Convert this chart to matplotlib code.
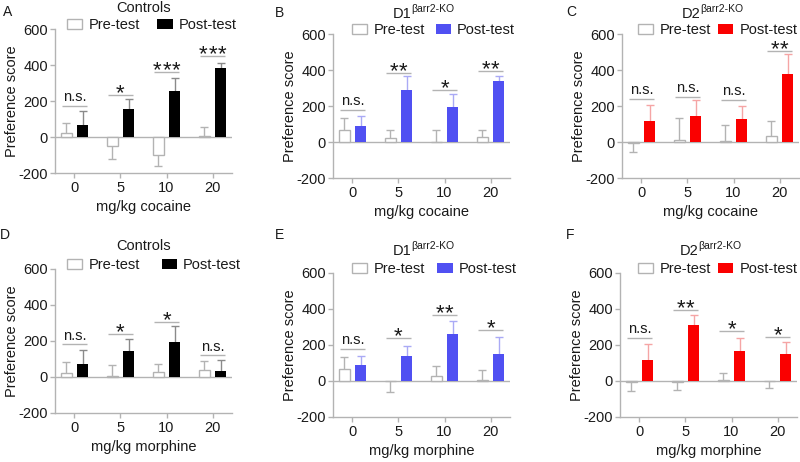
import numpy as np
import matplotlib.pyplot as plt
from matplotlib.patches import Patch

plt.rcParams['font.family'] = ['Liberation Sans', 'DejaVu Sans']
plt.rcParams['font.size'] = 10
plt.rcParams['axes.unicode_minus'] = False

W, H = 800, 462

doses = ['0', '5', '10', '20']

# A - controls, cocaine
a_pre = [22, -49, -101, 7]
a_pre_err = [60, 74, 58, 53]
a_post = [69, 157, 256, 385]
a_post_err = [79, 56, 75, 30]
a_sig = ['n.s.', '*', '***', '***']
a_sig_y = [175, 237, 363, 452]

# B - D1 bArr2-KO, cocaine
b_pre = [67, 24, 2, 30]
b_pre_err = [68, 43, 65, 37]
b_post = [89, 289, 198, 339]
b_post_err = [55, 78, 70, 28]
b_sig = ['n.s.', '**', '*', '**']
b_sig_y = [181, 385, 293, 398]

# C - D2 bArr2-KO, cocaine
c_pre = [-2, 15, 10, 37]
c_pre_err = [54, 120, 84, 80]
c_post = [117, 144, 131, 378]
c_post_err = [92, 93, 73, 113]
c_sig = ['n.s.', 'n.s.', 'n.s.', '**']
c_sig_y = [241, 250, 237, 506]

# D - controls, morphine
d_pre = [22, 7, 28, 39]
d_pre_err = [60, 62, 45, 51]
d_post = [71, 144, 194, 34]
d_post_err = [79, 65, 90, 59]
d_sig = ['n.s.', '*', '*', 'n.s.']
d_sig_y = [181, 241, 308, 120]

# E - D1 bArr2-KO, morphine
e_pre = [66, -2, 29, 5]
e_pre_err = [70, 60, 52, 57]
e_post = [88, 139, 261, 150]
e_post_err = [53, 55, 71, 92]
e_sig = ['n.s.', '*', '**', '*']
e_sig_y = [176, 237, 365, 283]

# F - D2 bArr2-KO, morphine
f_pre = [-3, -4, 7, -2]
f_pre_err = [52, 44, 37, 37]
f_post = [117, 310, 169, 149]
f_post_err = [90, 59, 68, 66]
f_sig = ['n.s.', '**', '*', '*']
f_sig_y = [237, 393, 279, 246]

GRAY = '#b3b3b3'
TXT = '#1a1a1a'
BLUE = '#5050f2'
RED = '#fa0000'


def px_rect(left, top, width, height):
    return [left / W, 1 - (top + height) / H, width / W, height / H]


def draw_errors(ax, xs, vals, errs, color):
    vals = np.array(vals, dtype=float)
    tips = vals + np.sign(vals) * np.array(errs)
    tips = np.where(vals == 0, vals + np.array(errs), tips)
    ax.vlines(xs, vals, tips, color=color, lw=1, zorder=2)
    ax.hlines(tips, xs - 0.085, xs + 0.085, color=color, lw=1, zorder=2)


def draw_panel(fig, rect, letter, letter_xy, title, sup, title_y,
               pre, pre_err, post, post_err, sig, sig_y,
               color, err_color, xlabel, leg_xy, colspace):
    ax = fig.add_axes(px_rect(*rect))
    x = np.arange(len(doses))
    off, bw = 0.18, 0.24

    ax.bar(x - off, pre, bw, facecolor='white', edgecolor=GRAY, lw=1, zorder=3)
    ax.bar(x + off, post, bw, color=color, lw=0, zorder=3)
    draw_errors(ax, x - off, pre, pre_err, GRAY)
    draw_errors(ax, x + off, post, post_err, err_color)
    ax.axhline(0, color=GRAY, lw=1, zorder=1)

    # significance brackets
    for xi, s, yv in zip(x, sig, sig_y):
        ax.hlines(yv, xi - 0.27, xi + 0.27, color=GRAY, lw=1)
        if s == 'n.s.':
            ax.annotate(s, (xi, yv), xytext=(0, 3.5), textcoords='offset points',
                        ha='center', va='baseline', fontsize=10.5, color=TXT)
        else:
            n = len(s)
            for k in range(n):
                ax.annotate('*', (xi + (k - (n - 1) / 2) * 0.21, yv), xytext=(0, -3),
                            textcoords='offset points', ha='center', va='baseline',
                            fontsize=16, color=TXT)

    ax.set_xlim(-0.42, 3.42)
    ax.set_ylim(-200, 600)
    ax.set_yticks([-200, 0, 200, 400, 600])
    ax.set_xticks(x)
    ax.set_xticklabels(doses)
    for sp in ['top', 'right']:
        ax.spines[sp].set_visible(False)
    for sp in ['left', 'bottom']:
        ax.spines[sp].set_color(GRAY)
        ax.spines[sp].set_linewidth(1)
    ax.tick_params(axis='both', colors=GRAY, labelcolor=TXT, length=3.5, width=1,
                   labelsize=10.5)
    ax.tick_params(axis='y', pad=1.5)
    ax.tick_params(axis='x', pad=2)
    ax.set_ylabel('Preference score', fontsize=10.5, color=TXT)
    ax.yaxis.set_label_coords(-0.205, 0.5)
    ax.set_xlabel(xlabel, fontsize=10.5, color=TXT, labelpad=4)

    # panel letter
    fig.text(letter_xy[0] / W, 1 - letter_xy[1] / H, letter, fontsize=10,
             color=TXT, ha='left', va='center')

    # title
    cx = rect[0] + rect[2] / 2
    if sup:
        t = fig.text((cx - 29) / W, 1 - title_y / H, title, fontsize=10.5,
                     color=TXT, ha='left', va='center')
        ax.annotate(sup, xy=(1, 0.62), xycoords=t, xytext=(-0.3, 0),
                    textcoords='offset points', fontsize=7.5, color=TXT,
                    ha='left', va='baseline')
    else:
        fig.text(cx / W, 1 - title_y / H, title, fontsize=10.5, color=TXT,
                 ha='center', va='center')

    handles = [Patch(facecolor='white', edgecolor=GRAY, lw=1, label='Pre-test'),
               Patch(facecolor=color, edgecolor=color, lw=0, label='Post-test')]
    leg = ax.legend(handles=handles, loc='center left',
                    bbox_to_anchor=(leg_xy[0] / W, 1 - leg_xy[1] / H),
                    bbox_transform=fig.transFigure, ncol=2, frameon=False,
                    borderpad=0, borderaxespad=0, handlelength=1.05,
                    handleheight=0.65, handletextpad=0.42, columnspacing=colspace,
                    fontsize=10.5)
    for tx in leg.get_texts():
        tx.set_color(TXT)
    return ax


fig = plt.figure(figsize=(W / 100, H / 100), dpi=100)

draw_panel(fig, (55, 29.3, 177, 144), 'A', (3, 12), 'Controls', None, 8,
           a_pre, a_pre_err, a_post, a_post_err, a_sig, a_sig_y,
           'black', '#8a8a8a', 'mg/kg cocaine', (67, 25), 1.2)
draw_panel(fig, (333, 34.3, 177, 144), 'B', (275, 13), 'D1', '\u03b2arr2-KO', 14,
           b_pre, b_pre_err, b_post, b_post_err, b_sig, b_sig_y,
           BLUE, '#aaaaf5', 'mg/kg cocaine', (352, 30), 0.75)
draw_panel(fig, (622, 34.3, 177, 144), 'C', (566, 12), 'D2', '\u03b2arr2-KO', 14,
           c_pre, c_pre_err, c_post, c_post_err, c_sig, c_sig_y,
           RED, '#f5a5a5', 'mg/kg cocaine', (638, 30), 0.5)
draw_panel(fig, (55, 269, 177, 144), 'D', (0, 235), 'Controls', None, 246,
           d_pre, d_pre_err, d_post, d_post_err, d_sig, d_sig_y,
           'black', '#8a8a8a', 'mg/kg morphine', (67, 265), 1.5)
draw_panel(fig, (333, 273, 177, 144), 'E', (275, 235), 'D1', '\u03b2arr2-KO', 251,
           e_pre, e_pre_err, e_post, e_post_err, e_sig, e_sig_y,
           BLUE, '#aaaaf5', 'mg/kg morphine', (352, 269), 0.85)
draw_panel(fig, (620, 273, 177, 144), 'F', (566, 235), 'D2', '\u03b2arr2-KO', 251,
           f_pre, f_pre_err, f_post, f_post_err, f_sig, f_sig_y,
           RED, '#f5a5a5', 'mg/kg morphine', (638, 269), 0.5)

fig.savefig('out.png', dpi=100)
